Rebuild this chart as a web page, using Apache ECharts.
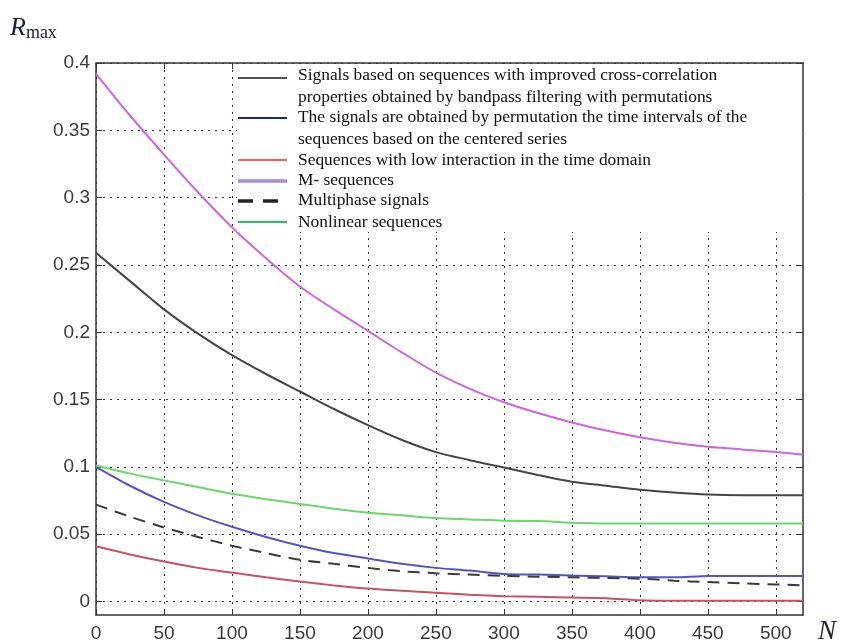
<!DOCTYPE html>
<html>
<head>
<meta charset="utf-8">
<script src="https://cdn.jsdelivr.net/npm/echarts@6/dist/echarts.min.js"></script>
<style>
html, body { margin: 0; padding: 0; background: #fff; }
#chart { width: 842px; height: 644px; }
</style>
</head>
<body>
<div id="chart"></div>
<script>
// data
var nValues = [0, 25, 50, 75, 100, 125, 150, 175, 200, 225, 250, 275, 300, 325, 350, 375, 400, 425, 450, 475, 500, 520];

var improved = [0.259, 0.238, 0.217, 0.199, 0.183, 0.169, 0.156, 0.143, 0.131, 0.12, 0.111, 0.105, 0.0995, 0.094, 0.089, 0.086, 0.083, 0.081, 0.0795, 0.079, 0.079, 0.079];
var centered = [0.1, 0.086, 0.074, 0.064, 0.0555, 0.048, 0.0415, 0.036, 0.032, 0.028, 0.025, 0.023, 0.0205, 0.02, 0.0193, 0.0187, 0.018, 0.018, 0.019, 0.019, 0.019, 0.019];
var lowInteraction = [0.041, 0.035, 0.0297, 0.025, 0.0215, 0.018, 0.0148, 0.012, 0.0096, 0.008, 0.0065, 0.005, 0.004, 0.0035, 0.003, 0.0025, 0.001, 0.0006, 0.0005, 0.0005, 0.0005, 0.0005];
var mSeq = [0.392, 0.361, 0.332, 0.304, 0.278, 0.255, 0.234, 0.217, 0.201, 0.185, 0.17, 0.158, 0.148, 0.14, 0.133, 0.127, 0.122, 0.118, 0.115, 0.113, 0.111, 0.109];
var multiphase = [0.072, 0.063, 0.055, 0.048, 0.0415, 0.036, 0.031, 0.028, 0.025, 0.0225, 0.021, 0.02, 0.019, 0.0185, 0.018, 0.0175, 0.017, 0.0155, 0.0145, 0.0135, 0.0127, 0.012];
var nonlinear = [0.101, 0.095, 0.09, 0.085, 0.08, 0.076, 0.0725, 0.069, 0.066, 0.064, 0.062, 0.061, 0.06, 0.0598, 0.0586, 0.058, 0.058, 0.058, 0.058, 0.058, 0.058, 0.058];

var xTicks = [0, 50, 100, 150, 200, 250, 300, 350, 400, 450, 500];
var yTicks = [0, 0.05, 0.1, 0.15, 0.2, 0.25, 0.3, 0.35, 0.4];

var legendNames = [
	'Signals based on sequences with improved cross-correlation\nproperties obtained by bandpass filtering with permutations',
	'The signals are obtained by permutation the time intervals of the\nsequences based on the centered series',
	'Sequences with low interaction in the time domain',
	'M- sequences',
	'Multiphase signals',
	'Nonlinear sequences'
];

var lineColors = ['#454545', '#5a52c4', '#c8506a', '#cc66dd', '#3a3a3a', '#6ad86a'];
var legendColors = ['#555555', '#1f2a7a', '#ff5a5a', '#b088d0', '#222222', '#2fbf5f'];

function pairs(ys) {
	return nValues.map(function(n, i) { return [n, ys[i]]; });
}

var chart = echarts.init(document.getElementById('chart'));

var gridLine = { show: true, lineStyle: { color: '#333', width: 1, type: [2, 5] } };
var fontAxis = { fontFamily: 'Liberation Sans', fontSize: 19, color: '#3a3a3a' };

// legend drawn as a white box in the top of the plot
var legendGraphic = [{
	type: 'rect',
	shape: { x: 237, y: 64, width: 565, height: 168 },
	style: { fill: '#fff' },
	z: 5
}];
var legendLineY = [78, 118, 160, 181, 201, 222];
var legendTextY = [64, 106, 149, 169, 189, 211];
legendNames.forEach(function(name, i) {
	legendGraphic.push({
		type: 'line',
		shape: { x1: 238, y1: legendLineY[i], x2: 287, y2: legendLineY[i] },
		style: {
			stroke: legendColors[i],
			lineWidth: i === 3 || i === 4 ? 3.5 : 2,
			lineDash: i === 4 ? [15, 10] : null
		},
		z: 6
	});
	legendGraphic.push({
		type: 'text',
		x: 298,
		y: legendTextY[i],
		style: {
			text: name,
			fontFamily: 'Liberation Serif',
			fontSize: 17.4,
			lineHeight: 22,
			fill: '#111'
		},
		z: 6
	});
});

var option = {
	animation: false,
	backgroundColor: '#fff',
	grid: { left: 96, right: 39, top: 63, bottom: 29, containLabel: false },
	xAxis: [{
		type: 'value', min: 0, max: 520,
		axisLine: { show: true, onZero: false, lineStyle: { color: '#333', width: 1.5 } },
		axisTick: { show: true, inside: true, length: 6, customValues: xTicks, lineStyle: { color: '#333' } },
		axisLabel: Object.assign({ customValues: xTicks, margin: 9 }, fontAxis),
		splitLine: gridLine
	}, {
		type: 'value', min: 0, max: 520, position: 'top',
		axisLine: { show: true, onZero: false, lineStyle: { color: '#333', width: 1.5 } },
		axisTick: { show: true, inside: true, length: 6, customValues: xTicks, lineStyle: { color: '#333' } },
		axisLabel: { show: false },
		splitLine: { show: false }
	}],
	yAxis: [{
		type: 'value', min: -0.01, max: 0.4,
		axisLine: { show: true, onZero: false, lineStyle: { color: '#333', width: 1.5 } },
		axisTick: { show: true, inside: true, length: 6, customValues: yTicks, lineStyle: { color: '#333' } },
		axisLabel: Object.assign({ customValues: yTicks, margin: 6 }, fontAxis),
		splitLine: gridLine
	}, {
		type: 'value', min: -0.01, max: 0.4, position: 'right',
		axisLine: { show: true, onZero: false, lineStyle: { color: '#333', width: 1.5 } },
		axisTick: { show: true, inside: true, length: 6, customValues: yTicks, lineStyle: { color: '#333' } },
		axisLabel: { show: false },
		splitLine: { show: false }
	}],
	series: [
		{ name: legendNames[0], type: 'line', data: pairs(improved) },
		{ name: legendNames[1], type: 'line', data: pairs(centered) },
		{ name: legendNames[2], type: 'line', data: pairs(lowInteraction) },
		{ name: legendNames[3], type: 'line', data: pairs(mSeq) },
		{ name: legendNames[4], type: 'line', data: pairs(multiphase), lineStyle: { type: [12, 8] } },
		{ name: legendNames[5], type: 'line', data: pairs(nonlinear) }
	].map(function(s, i) {
		s.showSymbol = false;
		s.smooth = 0.3;
		s.z = 3;
		s.lineStyle = Object.assign({ color: lineColors[i], width: 2 }, s.lineStyle || {});
		s.itemStyle = { color: lineColors[i] };
		return s;
	}),
	graphic: legendGraphic.concat([{
		type: 'text',
		x: 10, y: 14,
		style: {
			text: '{r|R}{m|max}',
			rich: {
				r: { fontFamily: 'Liberation Serif', fontStyle: 'italic', fontSize: 26, fill: '#1a1f3a' },
				m: { fontFamily: 'Liberation Serif', fontSize: 18, fill: '#1a1f3a', padding: [10, 0, 0, 0] }
			}
		}
	}, {
		type: 'text',
		x: 818, y: 618,
		style: { text: 'N', fontFamily: 'Liberation Serif', fontStyle: 'italic', fontSize: 27, fill: '#1a1f3a' }
	}])
};

chart.setOption(option);
</script>
</body>
</html>
